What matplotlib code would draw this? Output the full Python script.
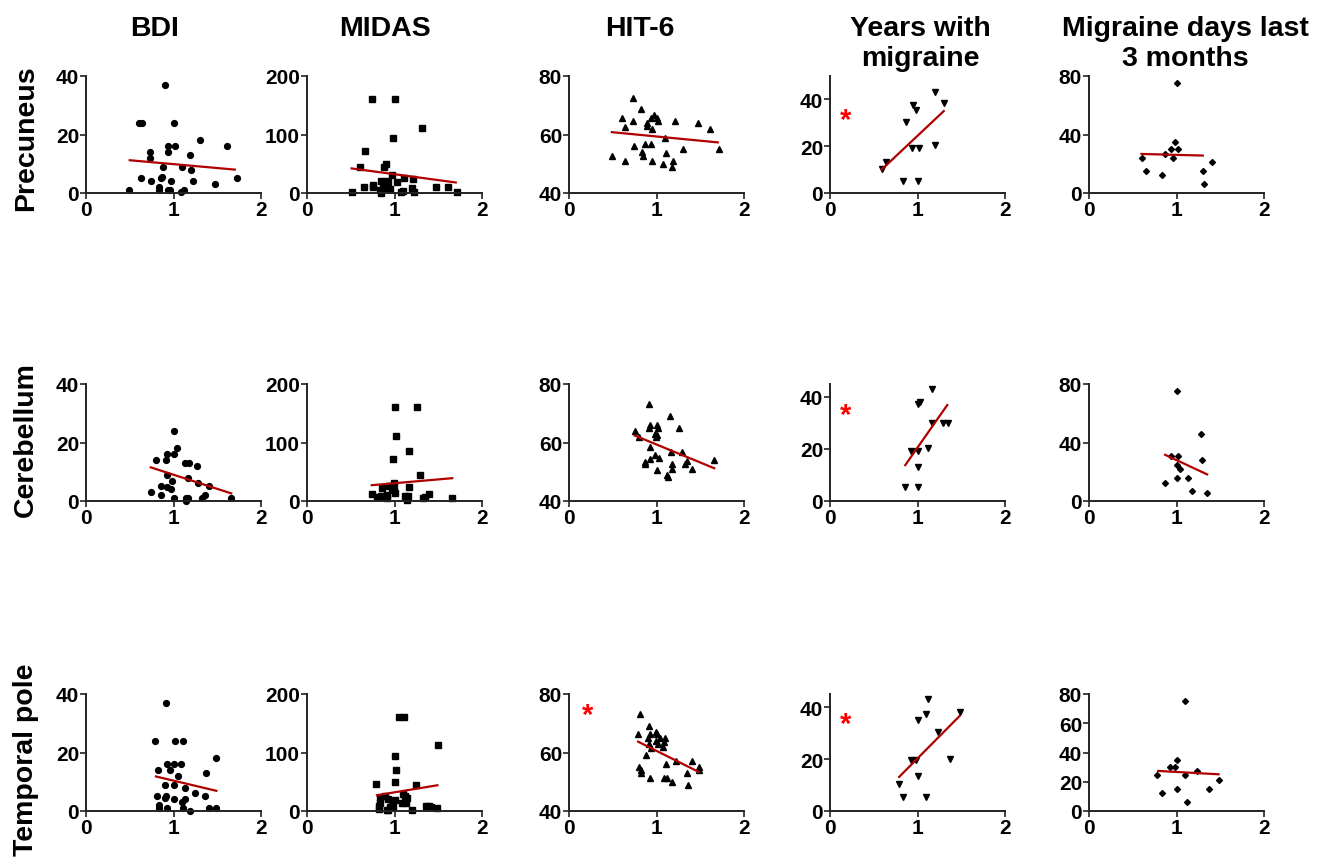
import matplotlib.pyplot as plt

plt.rcParams['font.family'] = ['Liberation Sans', 'DejaVu Sans']
plt.rcParams['font.weight'] = 'bold'

# column titles and row names
col_titles = ['BDI', 'MIDAS', 'HIT-6', 'Years with\nmigraine', 'Migraine days last\n3 months']
row_names = ['Precuneus', 'Cerebellum', 'Temporal pole']

# ---- Precuneus ----
prec_bdi_x = [0.49, 0.90, 0.60, 0.64, 1.01, 0.63, 0.73, 0.73, 0.74, 0.86, 0.87, 0.88, 0.94, 0.94, 1.02, 0.97,
              0.83, 0.83, 0.94, 0.96, 1.08, 1.12, 1.10, 1.20, 1.19, 1.22, 1.30, 1.47, 1.61, 1.72]
prec_bdi_y = [1, 37, 24, 24, 24, 5, 14, 12, 4, 5, 5.5, 9, 16, 14, 16, 4,
              2, 1, 1, 1, 0.3, 1, 9, 8, 13, 4, 18, 3, 16, 5]
prec_bdi_fit = [0.50, 1.70, 11.2, 8.0]

prec_midas_x = [0.51, 0.61, 0.66, 0.65, 0.75, 0.75, 0.74, 1.01, 0.84, 0.83, 0.84, 0.88, 0.90, 0.90, 0.87,
                0.93, 0.95, 0.97, 0.98, 1.03, 1.07, 1.10, 1.11, 1.21, 1.20, 1.22, 1.31, 1.47, 1.61, 1.72]
prec_midas_y = [2, 45, 71, 11, 14, 11, 160, 160, 0, 5, 20, 44, 49, 21, 8,
                18, 6, 30, 94, 19, 2, 4, 25, 24, 8, 2, 111, 11, 11, 2]
prec_midas_fit = [0.51, 1.70, 42, 18]

prec_hit_x = [0.49, 0.60, 0.64, 0.64, 0.73, 0.73, 0.74, 0.82, 0.83, 0.85, 0.87, 0.89, 0.89, 0.94, 0.94,
              0.95, 0.95, 0.97, 1.01, 1.02, 1.07, 1.10, 1.11, 1.21, 1.19, 1.18, 1.30, 1.47, 1.61, 1.71]
prec_hit_y = [52.8, 65.7, 50.8, 62.7, 72.6, 64.7, 55.9, 68.7, 53.9, 52.8, 56.8, 63.8, 62.9, 65.7, 56.8,
              61.8, 51, 66.6, 65.7, 64.7, 49.9, 58.8, 53.8, 64.7, 50.8, 48.8, 55, 63.8, 61.8, 55]
prec_hit_fit = [0.49, 1.70, 60.8, 57.3]

prec_years_x = [0.59, 0.64, 0.83, 0.87, 0.95, 0.98, 0.94, 1.02, 1.01, 1.20, 1.20, 1.30]
prec_years_y = [10.3, 13.1, 5.3, 30.3, 37.4, 35.3, 19.3, 19.3, 5.3, 20.3, 43.3, 38.3]
prec_years_fit = [0.59, 1.30, 10, 35]

prec_days_x = [0.60, 0.65, 0.83, 0.87, 0.94, 0.96, 0.98, 1.00, 1.02, 1.30, 1.31, 1.40]
prec_days_y = [24, 15, 12, 27, 30, 24, 35, 75, 30, 15, 6, 21]
prec_days_fit = [0.60, 1.30, 26.7, 25.6]

# ---- Cerebellum ----
cere_bdi_x = [0.74, 0.80, 0.86, 0.86, 0.92, 0.97, 0.91, 0.93, 0.93, 0.98, 1.00, 1.01, 1.04, 1.01,
              1.13, 1.18, 1.14, 1.17, 1.14, 1.17, 1.27, 1.28, 1.32, 1.36, 1.40, 1.66]
cere_bdi_y = [3, 14, 2, 5, 4.8, 4, 14, 16, 9, 7, 24, 16, 18, 1,
              13, 13, 1, 1, 0, 8, 12, 6, 1, 2, 5, 1]
cere_bdi_fit = [0.74, 1.66, 11.5, 2.6]

cere_midas_x = [0.74, 0.80, 0.84, 0.86, 0.91, 0.91, 0.93, 0.97, 0.99, 1.01, 0.98, 0.99, 1.00, 1.02,
                1.12, 1.14, 1.15, 1.17, 1.17, 1.26, 1.29, 1.33, 1.35, 1.40, 1.66]
cere_midas_y = [12.5, 7, 8.5, 21.6, 11, 5.7, 25.6, 21.6, 18, 14, 71, 30, 160, 111,
                9, 2, 8.5, 24, 85, 160, 45, 4.5, 7, 12.5, 5.7]
cere_midas_fit = [0.74, 1.66, 27, 39]

cere_hit_x = [0.75, 0.80, 0.91, 0.93, 0.91, 0.93, 0.87, 0.87, 0.92, 0.98, 0.98, 1.00, 0.99, 1.01, 1.01,
              1.02, 1.03, 1.12, 1.13, 1.15, 1.17, 1.18, 1.18, 1.26, 1.29, 1.32, 1.35, 1.40, 1.66]
cere_hit_y = [63.8, 62, 73, 66, 65, 58.6, 53.3, 52.5, 54.5, 55.6, 63, 62.6, 62, 50.7, 66,
              65, 54.7, 49, 48.3, 69, 56.8, 52.5, 50.8, 65, 56.8, 52.5, 53.6, 50.8, 53.9]
cere_hit_fit = [0.75, 1.66, 62.4, 51.2]

cere_years_x = [0.86, 1.00, 0.93, 1.01, 1.00, 1.00, 1.03, 1.12, 1.17, 1.17, 1.29, 1.35]
cere_years_y = [5.4, 5.4, 19.2, 19.2, 13.2, 37.2, 38.2, 20.3, 43, 30, 30, 30]
cere_years_fit = [0.86, 1.34, 13.8, 36.9]

cere_days_x = [0.87, 0.94, 1.01, 1.02, 1.01, 1.04, 1.00, 1.13, 1.18, 1.28, 1.29, 1.35]
cere_days_y = [12.5, 30.5, 75, 30.5, 24.3, 21.6, 15.7, 15.7, 6.6, 45.5, 27.7, 5.7]
cere_days_fit = [0.87, 1.35, 31.6, 18.2]

# ---- Temporal pole ----
temp_bdi_x = [0.79, 0.82, 0.81, 0.83, 0.83, 0.91, 0.90, 0.90, 0.91, 0.93, 1.00, 0.93, 0.96, 1.00, 1.00,
              1.02, 1.11, 1.05, 1.08, 1.11, 1.10, 1.13, 1.13, 1.19, 1.24, 1.36, 1.37, 1.41, 1.49, 1.49]
temp_bdi_y = [24, 14, 5, 2, 1, 37, 9, 4.3, 5, 16, 16, 1, 14, 9, 4,
              24, 24, 12, 16, 1, 3, 4, 8, 0, 6, 5, 13, 1, 1, 18]
temp_bdi_fit = [0.80, 1.49, 11.8, 6.9]

temp_midas_x = [0.79, 0.82, 0.82, 0.83, 0.83, 0.89, 0.92, 0.91, 0.93, 0.95, 0.97, 0.98, 1.00, 1.00,
                1.01, 1.02, 1.05, 1.11, 1.10, 1.12, 1.14, 1.09, 1.13, 1.20, 1.25, 1.36, 1.39, 1.42, 1.49, 1.50]
temp_midas_y = [46, 8.6, 3, 13, 23, 26, 21, 2, 2, 6, 10, 6, 19, 50,
                94, 70, 160, 160, 29, 26, 23, 13, 13, 2, 44, 8.6, 8.6, 7, 4.6, 113]
temp_midas_fit = [0.80, 1.49, 27, 44]

temp_hit_x = [0.81, 0.79, 0.80, 0.82, 0.82, 0.88, 0.92, 0.91, 0.90, 0.92, 0.91, 0.94, 0.99, 1.00, 0.99,
              1.02, 1.04, 1.08, 1.10, 1.07, 1.11, 1.09, 1.12, 1.18, 1.22, 1.35, 1.36, 1.40, 1.48, 1.48]
temp_hit_y = [73.1, 66.3, 55.1, 53.9, 53, 59.1, 51.3, 69, 65, 66.2, 63, 61.7, 67, 66.2, 63.9,
              63, 64.8, 63.7, 65, 62, 56, 51.3, 51.3, 50, 57, 53, 49, 57, 55, 54]
temp_hit_fit = [0.79, 1.48, 63.7, 53.4]

temp_years_x = [0.79, 0.83, 0.93, 0.98, 1.00, 1.01, 1.10, 1.10, 1.12, 1.23, 1.37, 1.49]
temp_years_y = [10.3, 5.4, 19.5, 19.5, 35.1, 13.3, 37.2, 5.4, 43, 30.4, 20.1, 38]
temp_years_fit = [0.79, 1.48, 13.1, 36.5]

temp_days_x = [0.78, 0.83, 0.92, 0.98, 1.00, 1.01, 1.10, 1.10, 1.12, 1.23, 1.37, 1.49]
temp_days_y = [24.5, 12.3, 30, 30, 35, 15.3, 24.5, 75, 6.2, 27.2, 15.3, 21.5]
temp_days_fit = [0.79, 1.48, 27.4, 25.1]

# significant correlations (row, col) -> star position
stars = {(0, 3): (0.18, 31.3), (1, 3): (0.18, 33.2), (2, 3): (0.18, 33.5), (2, 2): (0.21, 73.0)}

data = [
    [(prec_bdi_x, prec_bdi_y, prec_bdi_fit), (prec_midas_x, prec_midas_y, prec_midas_fit),
     (prec_hit_x, prec_hit_y, prec_hit_fit), (prec_years_x, prec_years_y, prec_years_fit),
     (prec_days_x, prec_days_y, prec_days_fit)],
    [(cere_bdi_x, cere_bdi_y, cere_bdi_fit), (cere_midas_x, cere_midas_y, cere_midas_fit),
     (cere_hit_x, cere_hit_y, cere_hit_fit), (cere_years_x, cere_years_y, cere_years_fit),
     (cere_days_x, cere_days_y, cere_days_fit)],
    [(temp_bdi_x, temp_bdi_y, temp_bdi_fit), (temp_midas_x, temp_midas_y, temp_midas_fit),
     (temp_hit_x, temp_hit_y, temp_hit_fit), (temp_years_x, temp_years_y, temp_years_fit),
     (temp_days_x, temp_days_y, temp_days_fit)],
]

markers = ['o', 's', '^', 'v', 'D']
msizes = [4.2, 4.6, 4.6, 4.6, 3.0]

W, H = 1328, 862
fig = plt.figure(figsize=(W / 100, H / 100), dpi=100)

col_left = [86, 307, 569, 830, 1089]
row_bottom = [194, 502, 812]
ax_w, ax_h = 175, 117

for r in range(3):
    for c in range(5):
        x, y, fit = data[r][c]
        ax = fig.add_axes([col_left[c] / W, 1 - row_bottom[r] / H, ax_w / W, ax_h / H])
        ax.plot(x, y, linestyle='none', marker=markers[c], ms=msizes[c], color='black', clip_on=False)
        ax.plot(fit[:2], fit[2:], color='#b00000', lw=1.6)
        if (r, c) in stars:
            sx, sy = stars[(r, c)]
            ax.text(sx, sy, '*', color='red', fontsize=21, ha='center', va='center')
        ax.set_xlim(0, 2)
        ax.set_xticks([0, 1, 2])
        if c == 0:
            ax.set_ylim(0, 40)
            ax.set_yticks([0, 20, 40])
        elif c == 1:
            ax.set_ylim(0, 200)
            ax.set_yticks([0, 100, 200])
        elif c == 2:
            ax.set_ylim(40, 80)
            ax.set_yticks([40, 60, 80])
        elif c == 3:
            ax.set_ylim(0, 50 if r == 0 else 45)
            ax.set_yticks([0, 20, 40])
        else:
            ax.set_ylim(0, 80)
            ax.set_yticks([0, 20, 40, 60, 80] if r == 2 else [0, 40, 80])
        for s in ['top', 'right']:
            ax.spines[s].set_visible(False)
        for s in ['left', 'bottom']:
            ax.spines[s].set_linewidth(1.4)
            ax.spines[s].set_color('#222222')
        ax.tick_params(length=4, width=1.2, color='#222222', labelsize=15, pad=1)
        for lab in ax.get_xticklabels() + ax.get_yticklabels():
            lab.set_fontweight('bold')

title_x = [155, 385, 640, 920, 1185]
for c in range(5):
    fig.text(title_x[c] / W, 1 - 16 / H, col_titles[c], ha='center', va='top',
             fontsize=20.5, fontweight='bold', linespacing=1.2)

row_y = [138, 440, 760]
for r in range(3):
    fig.text(26 / W, 1 - row_y[r] / H, row_names[r], rotation=90, ha='center', va='center',
             fontsize=20.5, fontweight='bold')

fig.savefig('out.png', dpi=100)
